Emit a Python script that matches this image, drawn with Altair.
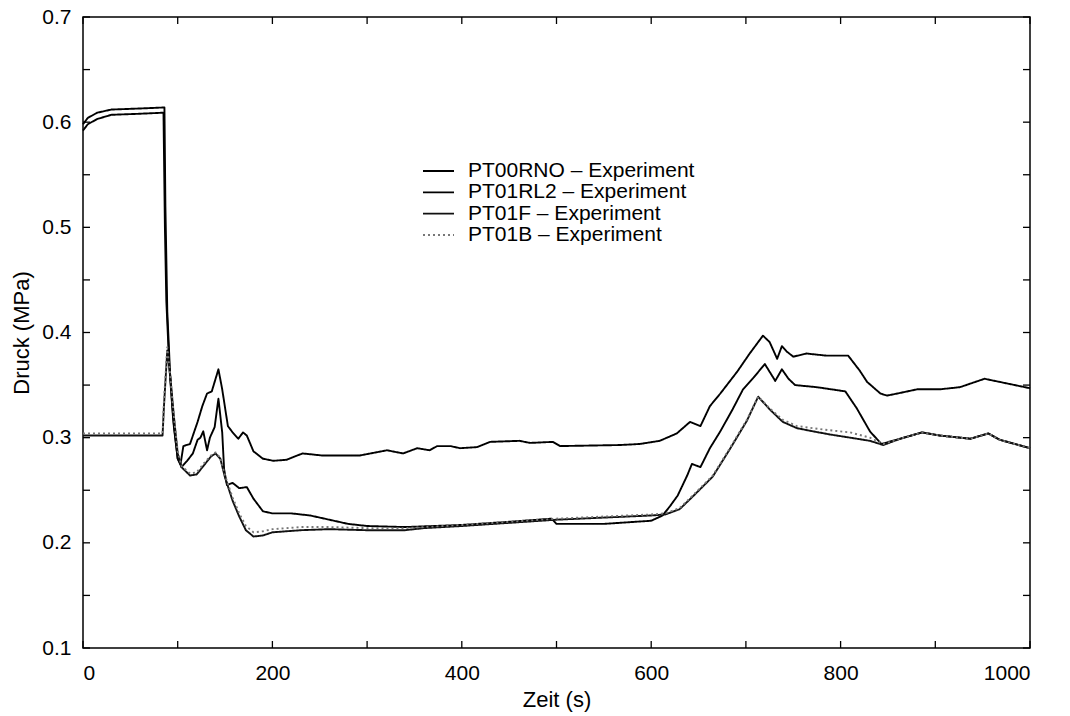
import altair as alt
import pandas as pd

# ---------------- data ----------------
series_names = ["PT00RNO – Experiment", "PT01RL2 – Experiment",
                "PT01F – Experiment", "PT01B – Experiment"]

a_t = [0, 5, 15, 30, 60, 86, 87, 89, 92, 96, 100, 103, 106, 113, 121, 126, 131, 136, 143, 147,
       153, 158, 164, 169, 173, 180, 190, 201, 215, 226, 232, 253, 292, 321, 338, 353, 366, 374,
       388, 398, 416, 430, 461, 472, 496, 504, 567, 588, 609, 627, 641, 652, 662, 673, 691, 704,
       718, 725, 733, 738, 743, 750, 764, 785, 808, 820, 828, 842, 849, 860, 881, 905, 926, 952,
       968, 1000]
a_p = [0.598, 0.604, 0.609, 0.612, 0.613, 0.614, 0.52, 0.42, 0.36, 0.31, 0.28, 0.275, 0.292,
       0.294, 0.315, 0.33, 0.342, 0.344, 0.365, 0.346, 0.311, 0.305, 0.299, 0.305, 0.302, 0.287,
       0.28, 0.278, 0.279, 0.283, 0.285, 0.283, 0.283, 0.288, 0.285, 0.29, 0.288, 0.292, 0.292,
       0.29, 0.291, 0.296, 0.297, 0.295, 0.296, 0.292, 0.293, 0.294, 0.297, 0.304, 0.315, 0.311,
       0.33, 0.342, 0.363, 0.38, 0.397, 0.391, 0.375, 0.387, 0.382, 0.377, 0.38, 0.378, 0.378,
       0.364, 0.353, 0.342, 0.34, 0.342, 0.346, 0.346, 0.348, 0.356, 0.353, 0.347]

b_t = [0, 5, 15, 30, 60, 85, 86.5, 88, 91, 95, 100, 104, 110, 116, 121, 124, 127, 131, 134, 139,
       143, 147, 149, 152, 158, 165, 173, 180, 190, 200, 220, 240, 260, 280, 300, 340, 400, 450,
       495, 500, 550, 600, 612, 620, 628, 638, 643, 652, 662, 673, 686, 697, 708, 720, 731, 738,
       745, 752, 775, 805, 817, 831, 843, 863, 886, 905, 937, 956, 968, 1000]
b_p = [0.592, 0.598, 0.603, 0.607, 0.608, 0.609, 0.5, 0.43, 0.37, 0.32, 0.28, 0.272, 0.278,
       0.285, 0.298, 0.3, 0.306, 0.288, 0.3, 0.31, 0.337, 0.305, 0.27, 0.255, 0.257, 0.252,
       0.253, 0.242, 0.23, 0.228, 0.228, 0.226, 0.222, 0.218, 0.216, 0.215, 0.217, 0.22, 0.223,
       0.218, 0.218, 0.221, 0.226, 0.235, 0.245, 0.264, 0.275, 0.272, 0.29, 0.306, 0.327, 0.346,
       0.357, 0.37, 0.354, 0.365, 0.356, 0.35, 0.348, 0.344, 0.328, 0.306, 0.294, 0.299, 0.305,
       0.302, 0.299, 0.304, 0.298, 0.29]

c_t = [0, 84, 85.5, 89, 92, 96, 100, 104, 113, 120, 128, 135, 140, 145, 150, 158, 165, 172, 180,
       190, 200, 230, 260, 300, 340, 360, 400, 450, 500, 550, 600, 615, 630, 645, 665, 683, 701,
       713, 725, 739, 754, 771, 789, 810, 831, 845, 863, 886, 905, 937, 956, 968, 1000]
c_p = [0.302, 0.302, 0.33, 0.383, 0.36, 0.32, 0.285, 0.272, 0.264, 0.265, 0.274, 0.282, 0.285,
       0.28, 0.262, 0.24, 0.225, 0.212, 0.206, 0.207, 0.21, 0.212, 0.213, 0.212, 0.212, 0.214,
       0.216, 0.219, 0.222, 0.224, 0.226, 0.227, 0.232, 0.245, 0.263, 0.289, 0.316, 0.339, 0.327,
       0.315, 0.309, 0.306, 0.303, 0.3, 0.297, 0.293, 0.299, 0.305, 0.302, 0.299, 0.304, 0.298,
       0.29]

d_t = [0, 84, 85.5, 89, 92, 96, 100, 104, 113, 120, 128, 135, 140, 145, 150, 158, 165, 172, 180,
       190, 200, 230, 260, 300, 340, 400, 450, 500, 550, 600, 615, 630, 645, 665, 683, 701, 713,
       725, 739, 754, 771, 789, 810, 831, 845, 863, 886, 905, 937, 956, 968, 1000]
d_p = [0.304, 0.304, 0.335, 0.386, 0.36, 0.32, 0.287, 0.273, 0.266, 0.267, 0.276, 0.283, 0.286,
       0.281, 0.264, 0.243, 0.228, 0.216, 0.21, 0.211, 0.213, 0.215, 0.215, 0.214, 0.214, 0.217,
       0.22, 0.223, 0.225, 0.227, 0.228, 0.233, 0.246, 0.264, 0.29, 0.317, 0.339, 0.328, 0.317,
       0.311, 0.309, 0.307, 0.305, 0.3, 0.294, 0.299, 0.305, 0.302, 0.299, 0.304, 0.298, 0.29]

x_tick_values = [0, 100, 200, 300, 400, 500, 600, 700, 800, 900, 1000]
x_label_values = [0, 200, 400, 600, 800, 1000]
y_tick_values = [0.1, 0.15, 0.2, 0.25, 0.3, 0.35, 0.4, 0.45, 0.5, 0.55, 0.6, 0.65, 0.7]
y_label_values = [0.1, 0.2, 0.3, 0.4, 0.5, 0.6, 0.7]

# ---------------- tables ----------------
frames = []
for i, (tt, pp) in enumerate([(a_t, a_p), (b_t, b_p), (c_t, c_p), (d_t, d_p)]):
    frames.append(pd.DataFrame({"t": tt, "p": pp, "series": series_names[i], "order": range(len(tt))}))
df = pd.concat(frames, ignore_index=True)
xt = pd.DataFrame({"t": x_tick_values})
yt = pd.DataFrame({"p": y_tick_values})
leg = pd.DataFrame({"series": series_names})

W, H = 947, 631
TL = 7
FONT = "Liberation Sans, Arial, Helvetica, sans-serif"

xscale = alt.Scale(domain=[0, 1000], nice=False, zero=False)
yscale = alt.Scale(domain=[0.1, 0.7], nice=False, zero=False)
color_scale = alt.Scale(domain=series_names,
                        range=["#000000", "#000000", "#111111", "#777777"])
dash_scale = alt.Scale(domain=series_names,
                       range=[[1, 0], [1, 0], [1, 0], [2, 3]])

x_axis = alt.Axis(values=x_label_values, title="Zeit (s)", format="d",
                  labelPadding=14, titlePadding=6)
y_axis = alt.Axis(values=y_label_values, title="Druck (MPa)", format=".1f",
                  labelPadding=12, titlePadding=8)

lines = alt.Chart(df).mark_line(strokeWidth=1.9, strokeJoin="round").encode(
    x=alt.X("t:Q", scale=xscale, axis=x_axis),
    y=alt.Y("p:Q", scale=yscale, axis=y_axis),
    color=alt.Color("series:N", sort=series_names, scale=color_scale, legend=None),
    strokeDash=alt.StrokeDash("series:N", sort=series_names, scale=dash_scale, legend=None),
    order="order:Q",
)

tick_b = alt.Chart(xt).mark_rule(color="black", strokeWidth=1.3).encode(
    x=alt.X("t:Q", scale=xscale, axis=x_axis), y=alt.value(H), y2=alt.value(H - TL))
tick_t = alt.Chart(xt).mark_rule(color="black", strokeWidth=1.3).encode(
    x=alt.X("t:Q", scale=xscale, axis=x_axis), y=alt.value(0), y2=alt.value(TL))
tick_l = alt.Chart(yt).mark_rule(color="black", strokeWidth=1.3).encode(
    y=alt.Y("p:Q", scale=yscale, axis=y_axis), x=alt.value(0), x2=alt.value(TL))
tick_r = alt.Chart(yt).mark_rule(color="black", strokeWidth=1.3).encode(
    y=alt.Y("p:Q", scale=yscale, axis=y_axis), x=alt.value(W), x2=alt.value(W - TL))

main = alt.layer(lines, tick_b, tick_t, tick_l, tick_r)

# legend drawn as its own small layer (series names on a point scale)
leg_y = alt.Y("series:N", sort=series_names,
              scale=alt.Scale(type="point", domain=series_names, range=[154, 218], padding=0),
              axis=None)
leg_line = alt.Chart(leg).mark_rule(strokeWidth=1.9).encode(
    x=alt.value(340), x2=alt.value(371), y=leg_y,
    color=alt.Color("series:N", sort=series_names, scale=color_scale, legend=None),
    strokeDash=alt.StrokeDash("series:N", sort=series_names, scale=dash_scale, legend=None),
)
leg_text = alt.Chart(leg).mark_text(align="left", baseline="middle", fontSize=21,
                                    font=FONT, color="black").encode(
    x=alt.value(385), y=leg_y, text="series:N")
legend_layer = alt.layer(leg_line, leg_text)

chart = alt.layer(main, legend_layer).resolve_scale(y="independent").properties(
    width=W, height=H,
    padding={"left": 83, "top": 17, "right": 40, "bottom": 68},
    autosize=alt.AutoSizeParams(type="none"),
    background="white",
).configure_view(
    stroke="black", strokeWidth=1.5
).configure_axis(
    domain=False, ticks=False, grid=False,
    labelFont=FONT, labelFontSize=21, labelColor="black",
    titleFont=FONT, titleFontSize=22, titleFontWeight="normal", titleColor="black",
)

chart.save("out.html", embed_options={"renderer": "svg", "actions": False})
